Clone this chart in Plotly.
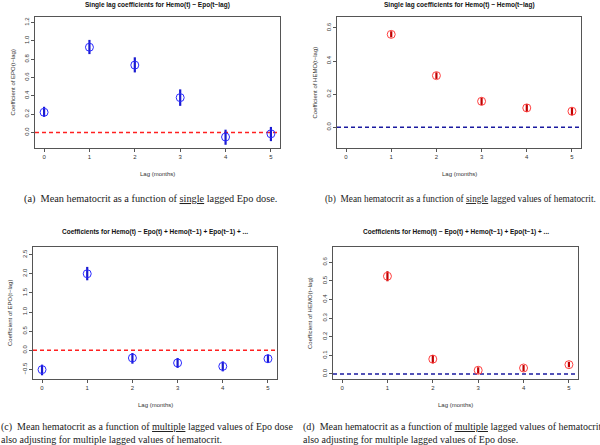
import plotly.graph_objects as go

lags = [0, 1, 2, 3, 4, 5]
lags_h = [1, 2, 3, 4, 5]

a_est = [0.22, 0.93, 0.735, 0.38, -0.05, -0.015]
a_lo = [0.17, 0.855, 0.655, 0.29, -0.135, -0.095]
a_hi = [0.28, 1.01, 0.82, 0.47, 0.03, 0.06]

b_est = [0.561, 0.312, 0.157, 0.117, 0.097]
b_lo = [0.543, 0.292, 0.133, 0.093, 0.072]
b_hi = [0.58, 0.332, 0.18, 0.14, 0.12]

c_est = [-0.505, 2.0, -0.2, -0.33, -0.42, -0.22]
c_lo = [-0.653, 1.83, -0.35, -0.46, -0.55, -0.33]
c_hi = [-0.375, 2.18, -0.07, -0.2, -0.29, -0.11]

d_est = [0.525, 0.08, 0.02, 0.032, 0.05]
d_lo = [0.498, 0.057, 0.002, 0.014, 0.036]
d_hi = [0.552, 0.102, 0.036, 0.048, 0.065]

titles = ["Single lag coefficients for Hemo(t) ~ Epo(t\u2212lag)",
          "Single lag coefficients for Hemo(t) ~ Hemo(t\u2212lag)",
          "Coefficients for Hemo(t) ~ Epo(t) + Hemo(t\u22121) + Epo(t\u22121) + ...",
          "Coefficients for Hemo(t) ~ Epo(t) + Hemo(t\u22121) + Epo(t\u22121) + ..."]
ylabels = ["Coefficient of EPO(t\u2212lag)", "Coefficient of HEMO(t\u2212lag)",
           "Coefficient of EPO(t\u2212lag)", "Coefficient of HEMO(t\u2212lag)"]
xlabel = "Lag (months)"
cap_a = "(a)  Mean hematocrit as a function of <u>single</u> lagged Epo dose."
cap_b = "(b)  Mean hematocrit as a function of <u>single</u> lagged values of hematocrit."
cap_c1 = "(c)  Mean hematocrit as a function of <u>multiple</u> lagged values of Epo dose"
cap_c2 = "also adjusting for multiple lagged values of hematocrit."
cap_d1 = "(d)  Mean hematocrit as a function of <u>multiple</u> lagged values of hematocrit"
cap_d2 = "also adjusting for multiple lagged values of Epo dose."

W, H = 600, 445
# plot boxes in pixels: left, right, top, bottom
boxes = [(35, 280, 17, 148), (337, 581, 17, 148), (33, 277, 247, 379), (333, 578, 247, 379)]
yranges = [[-0.17, 1.26], [-0.125, 0.666], [-0.75, 2.7], [-0.027, 0.682]]
yticks = [[0, 0.2, 0.4, 0.6, 0.8, 1.0, 1.2], [0, 0.2, 0.4, 0.6],
          [-0.5, 0, 0.5, 1.0, 1.5, 2.0, 2.5], [0, 0.1, 0.2, 0.3, 0.4, 0.5, 0.6]]

series = [
    (lags, a_est, a_lo, a_hi, "#2a2aff", "#1a1ad0", "#ff2020"),
    (lags_h, b_est, b_lo, b_hi, "#ff4040", "#c00000", "#1a1aa0"),
    (lags, c_est, c_lo, c_hi, "#2a2aff", "#1a1ad0", "#ff2020"),
    (lags_h, d_est, d_lo, d_hi, "#ff4040", "#c00000", "#1a1aa0"),
]

fig = go.Figure()
sans = "Liberation Sans, Arial, sans-serif"
serif = "Liberation Serif, DejaVu Serif, serif"
annotations = []

for i, (box, (xs, est, lo, hi, mcol, ecol, rcol)) in enumerate(zip(boxes, series)):
    L, R, T, B = box
    n = "" if i == 0 else str(i + 1)
    xa = "xaxis" + n
    ya = "yaxis" + n
    fig.update_layout({
        xa: dict(domain=[L / W, R / W], range=[-0.2, 5.2], anchor="y" + n,
                 tickvals=[0, 1, 2, 3, 4, 5], ticks="outside", ticklen=3,
                 tickcolor="#555", showline=True, linecolor="#555", mirror=True,
                 showgrid=False, zeroline=False,
                 tickfont=dict(family=sans, size=6, color="#333")),
        ya: dict(domain=[1 - B / H, 1 - T / H], range=yranges[i], anchor="x" + n,
                 tickvals=yticks[i], tickformat=".1f", ticks="outside", ticklen=3,
                 tickcolor="#555", showline=True, linecolor="#555", mirror=True,
                 showgrid=False, zeroline=False, tickangle=-90,
                 tickfont=dict(family=sans, size=6, color="#333")),
    })
    xref = "x" + n
    yref = "y" + n
    err_plus = [h - e for h, e in zip(hi, est)]
    err_minus = [e - l for e, l in zip(est, lo)]
    fig.add_trace(go.Scatter(
        x=[-0.2, 5.2], y=[0, 0], mode="lines", xaxis=xref, yaxis=yref,
        line=dict(color=rcol, width=1.6, dash="4px,3px"), showlegend=False, hoverinfo="skip"))
    fig.add_trace(go.Scatter(
        x=xs, y=est, mode="markers", xaxis=xref, yaxis=yref, showlegend=False,
        marker=dict(symbol="circle-open", size=8, color=mcol, line=dict(width=1)),
        error_y=dict(type="data", symmetric=False, array=err_plus, arrayminus=err_minus,
                     color=ecol, thickness=2.2, width=0)))
    cx = (L + R) / 2
    ty = 5 if i < 2 else 232
    annotations.append(dict(text="<b>" + titles[i] + "</b>", x=cx / W, y=1 - ty / H,
                            xref="paper", yref="paper", showarrow=False,
                            xanchor="center", yanchor="middle",
                            font=dict(family=sans, size=6.5, color="#111")))
    annotations.append(dict(text=xlabel, x=cx / W, y=1 - (B + 26) / H,
                            xref="paper", yref="paper", showarrow=False,
                            xanchor="center", yanchor="middle",
                            font=dict(family=sans, size=6, color="#333")))
    annotations.append(dict(text=ylabels[i], x=(L - 23) / W, y=1 - ((T + B) / 2) / H,
                            xref="paper", yref="paper", showarrow=False, textangle=-90,
                            xanchor="center", yanchor="middle",
                            font=dict(family=sans, size=6, color="#333")))


def cap(text, x, y, anchor, size):
    return dict(text=text, x=x / W, y=1 - y / H, xref="paper", yref="paper",
                showarrow=False, xanchor=anchor, yanchor="middle", borderpad=0,
                font=dict(family=serif, size=size, color="#222"))


annotations.append(cap(cap_a, 150, 199, "center", 10.3))
annotations.append(cap(cap_b, 460, 199, "center", 9.3))
annotations.append(cap(cap_c1, 0, 427, "left", 10))
annotations.append(cap(cap_c2, 0, 439, "left", 10))
annotations.append(cap(cap_d1, 302, 427, "left", 10))
annotations.append(cap(cap_d2, 302, 439, "left", 10))

fig.update_layout(width=W, height=H, margin=dict(l=0, r=0, t=0, b=0),
                  paper_bgcolor="white", plot_bgcolor="white",
                  annotations=annotations, showlegend=False)
fig.write_html("out.html", config={"displayModeBar": False},
               post_script="document.body.style.margin='0px';document.body.style.overflow='hidden';")
